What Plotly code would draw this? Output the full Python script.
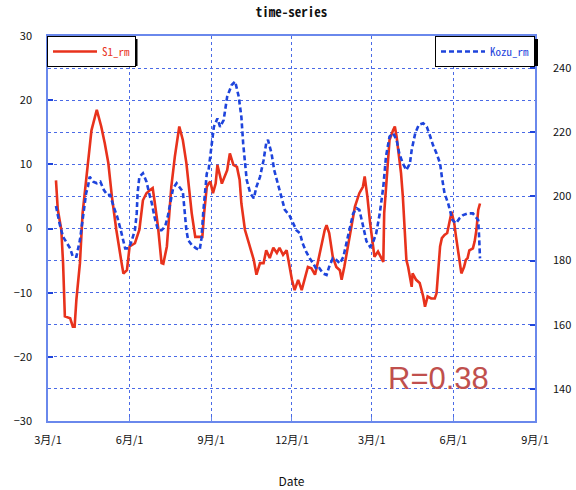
import plotly.graph_objects as go

# ---------------- data ----------------
s1_dates = [
    "2014-03-10", "2014-03-12", "2014-03-16", "2014-03-18", "2014-03-20", "2014-03-26", "2014-03-29", "2014-03-31",
    "2014-04-02", "2014-04-06", "2014-04-09", "2014-04-11", "2014-04-15", "2014-04-19", "2014-04-25", "2014-04-30",
    "2014-05-04", "2014-05-08", "2014-05-12", "2014-05-17", "2014-05-23", "2014-05-25", "2014-05-29", "2014-06-01",
    "2014-06-07", "2014-06-12", "2014-06-16", "2014-06-20", "2014-06-24", "2014-06-27", "2014-06-29", "2014-07-03",
    "2014-07-07", "2014-07-09", "2014-07-13", "2014-07-16", "2014-07-18", "2014-07-22", "2014-07-27", "2014-07-31",
    "2014-08-04", "2014-08-08", "2014-08-10", "2014-08-14", "2014-08-22", "2014-08-24", "2014-08-27", "2014-08-29",
    "2014-08-31", "2014-09-03", "2014-09-06", "2014-09-08", "2014-09-13", "2014-09-19", "2014-09-22", "2014-09-26",
    "2014-09-30", "2014-10-03", "2014-10-05", "2014-10-09", "2014-10-15", "2014-10-19", "2014-10-22", "2014-10-26",
    "2014-10-30", "2014-11-02", "2014-11-06", "2014-11-10", "2014-11-14", "2014-11-17", "2014-11-21", "2014-11-25",
    "2014-11-27", "2014-12-01", "2014-12-04", "2014-12-08", "2014-12-12", "2014-12-15", "2014-12-19", "2014-12-23",
    "2014-12-27", "2014-12-30", "2015-01-03", "2015-01-07", "2015-01-09", "2015-01-12", "2015-01-16", "2015-01-20",
    "2015-01-24", "2015-01-26", "2015-01-29", "2015-02-02", "2015-02-06", "2015-02-10", "2015-02-15", "2015-02-19",
    "2015-02-21", "2015-02-24", "2015-02-27", "2015-03-01", "2015-03-04", "2015-03-08", "2015-03-12", "2015-03-14",
    "2015-03-15", "2015-03-17", "2015-03-21", "2015-03-25", "2015-03-27", "2015-03-29", "2015-04-01", "2015-04-03",
    "2015-04-05", "2015-04-07", "2015-04-09", "2015-04-11", "2015-04-15", "2015-04-16", "2015-04-20", "2015-04-24",
    "2015-04-28", "2015-04-30", "2015-05-03", "2015-05-07", "2015-05-11", "2015-05-13", "2015-05-15", "2015-05-17",
    "2015-05-19", "2015-05-22", "2015-05-25", "2015-05-27", "2015-05-30", "2015-05-31", "2015-06-02", "2015-06-04",
    "2015-06-06", "2015-06-08", "2015-06-10", "2015-06-13", "2015-06-15", "2015-06-17", "2015-06-19", "2015-06-23",
    "2015-06-25", "2015-06-27", "2015-06-28", "2015-06-29", "2015-07-01",
]
s1_values = [
    7.5, 3.0, -0.2, -5.4, -13.7, -14.0, -15.3, -15.3,
    -11.1, -5.4, 2.4, 5.0, 10.2, 15.3, 18.5, 15.9,
    13.3, 10.2, 5.0, -0.2, -5.4, -7.0, -6.5, -2.8,
    -2.3, -0.2, 4.4, 5.5, 6.0, 6.3, 4.4, 0.3,
    -5.4, -5.5, -2.8, 2.4, 6.5, 11.2, 15.9, 13.8,
    10.2, 5.0, 2.4, -1.3, -1.3, 2.4, 6.5, 7.0,
    7.3, 5.5, 7.0, 9.9, 7.0, 9.1, 11.7, 9.9,
    9.6, 7.6, 3.9, -0.2, -2.8, -4.9, -7.2, -5.4,
    -5.4, -3.4, -4.6, -3.0, -3.8, -3.0, -4.1, -3.4,
    -4.9, -8.0, -9.6, -8.0, -9.6, -8.0, -6.0, -6.2,
    -7.2, -5.4, -2.8, -0.2, 0.5, -0.7, -4.4, -6.0,
    -6.5, -8.0, -6.0, -2.8, -0.2, 3.4, 5.5, 6.5,
    8.1, 5.0, 1.0, -1.5, -4.4, -3.6, -4.6, -5.2,
    2.4, 6.0, 13.8, 15.3, 15.9, 14.3, 11.2, 8.6,
    5.0, -0.2, -4.9, -6.0, -9.1, -7.0, -8.0, -8.5,
    -10.6, -12.2, -10.6, -10.9, -10.9, -10.1, -7.0, -2.8,
    -1.5, -1.0, -0.7, 0.8, 2.6, 2.0, 0.8, -1.3,
    -3.4, -4.9, -7.0, -6.0, -4.9, -4.6, -3.4, -3.1,
    -2.0, -0.2, 1.3, 2.9, 3.9,
]

kozu_dates = [
    "2014-03-10", "2014-03-14", "2014-03-18", "2014-03-22", "2014-03-26", "2014-03-29", "2014-04-02", "2014-04-06",
    "2014-04-08", "2014-04-10", "2014-04-13", "2014-04-15", "2014-04-17", "2014-04-21", "2014-04-25", "2014-04-29",
    "2014-05-03", "2014-05-07", "2014-05-10", "2014-05-14", "2014-05-18", "2014-05-22", "2014-05-25", "2014-05-27",
    "2014-05-31", "2014-06-03", "2014-06-07", "2014-06-09", "2014-06-10", "2014-06-12", "2014-06-16", "2014-06-20",
    "2014-06-24", "2014-06-26", "2014-06-29", "2014-07-03", "2014-07-07", "2014-07-11", "2014-07-14", "2014-07-18",
    "2014-07-20", "2014-07-24", "2014-07-27", "2014-07-31", "2014-08-04", "2014-08-06", "2014-08-10", "2014-08-15",
    "2014-08-19", "2014-08-21", "2014-08-23", "2014-08-25", "2014-08-27", "2014-08-29", "2014-08-31", "2014-09-02",
    "2014-09-04", "2014-09-08", "2014-09-11", "2014-09-15", "2014-09-19", "2014-09-24", "2014-09-28", "2014-10-02",
    "2014-10-05", "2014-10-07", "2014-10-11", "2014-10-15", "2014-10-19", "2014-10-22", "2014-10-26", "2014-10-30",
    "2014-11-02", "2014-11-04", "2014-11-08", "2014-11-11", "2014-11-15", "2014-11-19", "2014-11-23", "2014-11-28",
    "2014-12-02", "2014-12-06", "2014-12-10", "2014-12-13", "2014-12-17", "2014-12-21", "2014-12-25", "2014-12-29",
    "2015-01-01", "2015-01-05", "2015-01-09", "2015-01-12", "2015-01-16", "2015-01-20", "2015-01-24", "2015-01-28",
    "2015-01-31", "2015-02-04", "2015-02-08", "2015-02-12", "2015-02-15", "2015-02-19", "2015-02-23", "2015-02-27",
    "2015-03-02", "2015-03-06", "2015-03-10", "2015-03-14", "2015-03-17", "2015-03-21", "2015-03-25", "2015-03-29",
    "2015-04-01", "2015-04-05", "2015-04-09", "2015-04-13", "2015-04-15", "2015-04-19", "2015-04-23", "2015-04-28",
    "2015-05-02", "2015-05-06", "2015-05-09", "2015-05-13", "2015-05-17", "2015-05-19", "2015-05-22", "2015-05-26",
    "2015-05-28", "2015-05-31", "2015-06-04", "2015-06-08", "2015-06-12", "2015-06-17", "2015-06-23", "2015-06-26",
    "2015-06-29", "2015-06-30", "2015-07-01",
]
kozu_values = [
    197.0, 191.6, 187.4, 185.4, 183.8, 181.2, 181.2, 186.4,
    190.6, 195.8, 201.0, 203.0, 206.1, 204.6, 204.1, 204.6,
    202.0, 200.4, 200.5, 196.8, 193.7, 189.5, 186.4, 183.8,
    183.8, 185.9, 189.5, 194.7, 201.0, 206.1, 207.2, 204.6,
    199.9, 197.9, 193.7, 189.5, 189.5, 190.6, 193.7, 198.9,
    202.5, 204.1, 203.0, 201.5, 189.5, 186.4, 184.9, 183.8,
    183.3, 186.9, 195.0, 201.0, 207.2, 208.2, 212.4, 217.6,
    221.7, 224.3, 221.7, 223.8, 231.1, 234.7, 235.8, 231.1,
    224.8, 216.6, 205.1, 201.0, 199.4, 203.0, 206.1, 211.3,
    216.6, 217.6, 213.4, 208.2, 204.1, 199.9, 195.8, 194.2,
    191.6, 189.5, 188.5, 185.4, 182.8, 180.7, 179.1, 177.1,
    177.6, 176.0, 175.5, 178.1, 180.7, 180.2, 179.1, 181.2,
    184.9, 189.5, 194.7, 196.3, 195.8, 191.0, 186.0, 184.3,
    185.4, 188.5, 194.7, 203.0, 212.4, 218.6, 219.7, 217.6,
    213.4, 210.3, 208.2, 210.3, 214.5, 219.7, 222.3, 222.8,
    221.7, 218.6, 216.0, 213.4, 210.3, 206.1, 201.0, 197.9,
    195.5, 192.6, 191.6, 193.2, 194.2, 194.7, 194.7, 193.7,
    192.6, 187.4, 180.7,
]

x_tick_vals = ["2014-03-01", "2014-06-01", "2014-09-01", "2014-12-01", "2015-03-01", "2015-06-01", "2015-09-01"]
x_tick_text = ["3月/1", "6月/1", "9月/1", "12月/1", "3月/1", "6月/1", "9月/1"]
y_left_ticks = [-30, -20, -10, 0, 10, 20, 30]
y_right_ticks = [140, 160, 180, 200, 220, 240]
r_text = "R=0.38"

# ---------------- style ----------------
RED = "#e8321c"
BLUE = "#1e44dc"
GRID = "#4a6ae6"
AXIS = "#6a88ec"
TICKFONT = dict(family="Noto Sans CJK JP, DejaVu Sans", size=11, color="#111111")
MONO = "Noto Sans Mono CJK JP, DejaVu Sans Mono, monospace"

W, H = 576, 490
L, R, T, B = 48, 41, 36, 69
PW, PH = W - L - R, H - T - B


def px_x(p):
    return (p - L) / PW


def px_y(p):
    return (H - B - p) / PH


fig = go.Figure()
fig.add_trace(go.Scatter(
    x=s1_dates, y=s1_values, name="S1_rm", mode="lines",
    line=dict(color=RED, width=2.6), yaxis="y", legend="legend",
))
fig.add_trace(go.Scatter(
    x=kozu_dates, y=kozu_values, name="Kozu_rm", mode="lines",
    line=dict(color=BLUE, width=2.6, dash="5px,3px"), yaxis="y2", legend="legend2",
))

fig.update_layout(
    width=W, height=H,
    margin=dict(l=L, r=R, t=T, b=B, autoexpand=False),
    paper_bgcolor="white", plot_bgcolor="white",
    title=dict(text="<b>time-series</b>", x=(L + PW / 2) / W, xanchor="center",
               y=1 - 12 / H, yanchor="middle",
               font=dict(family=MONO, size=13, color="#111111")),
    xaxis=dict(
        range=["2014-03-01", "2015-09-01"], type="date",
        tickvals=x_tick_vals, ticktext=x_tick_text,
        showgrid=True, gridcolor=GRID, griddash="dot", gridwidth=1,
        showline=True, linecolor=AXIS, linewidth=1.5, mirror=True,
        ticks="inside", ticklen=4, tickcolor=AXIS,
        tickfont=TICKFONT, ticklabelstandoff=8,
        title=dict(text="Date", font=dict(family="Noto Sans CJK JP, DejaVu Sans", size=12, color="#111111"), standoff=32),
        zeroline=False,
    ),
    yaxis=dict(
        range=[-30, 30], tickvals=y_left_ticks,
        showgrid=True, gridcolor=GRID, griddash="dot", gridwidth=1,
        minor=dict(dtick=5, tick0=0, showgrid=True, gridcolor=GRID, griddash="dot", gridwidth=1, ticks=""),
        showline=True, linecolor=AXIS, linewidth=1.5,
        ticks="inside", ticklen=5, tickcolor=BLUE, tickwidth=1.5,
        tickfont=TICKFONT, ticklabelstandoff=12, zeroline=False,
    ),
    yaxis2=dict(
        range=[130, 250], tickvals=y_right_ticks, overlaying="y", side="right",
        showgrid=False, showline=True, linecolor=AXIS, linewidth=1.5,
        ticks="inside", ticklen=5, tickcolor=BLUE, tickwidth=1.5,
        tickfont=TICKFONT, ticklabelstandoff=14, zeroline=False,
    ),
    legend=dict(
        x=px_x(47), y=1.0, xanchor="left", yanchor="top",
        bgcolor="white", bordercolor="#000000", borderwidth=1,
        font=dict(family=MONO, size=11, color=RED),
        itemwidth=44, tracegroupgap=0,
    ),
    legend2=dict(
        x=1.0, y=1.0, xanchor="right", yanchor="top",
        bgcolor="white", bordercolor="#000000", borderwidth=1,
        font=dict(family=MONO, size=11, color=BLUE),
        itemwidth=44, tracegroupgap=0,
    ),
    showlegend=True,
    annotations=[dict(
        text=r_text, xref="paper", yref="paper", x=px_x(386), y=px_y(378),
        xanchor="left", yanchor="middle", showarrow=False,
        font=dict(family="Liberation Sans, Arial", size=31, color="#c0504d"),
    )],
    shapes=[
        dict(type="rect", xref="paper", yref="paper", layer="above",
             x0=px_x(50), x1=px_x(137.5), y0=px_y(66), y1=px_y(39),
             fillcolor="black", line=dict(width=0)),
        dict(type="rect", xref="paper", yref="paper", layer="above",
             x0=px_x(438), x1=px_x(538), y0=px_y(66), y1=px_y(39),
             fillcolor="black", line=dict(width=0)),
    ],
)

fig.write_html("out.html", config={"displayModeBar": False},
               post_script="document.body.style.margin='0';")
